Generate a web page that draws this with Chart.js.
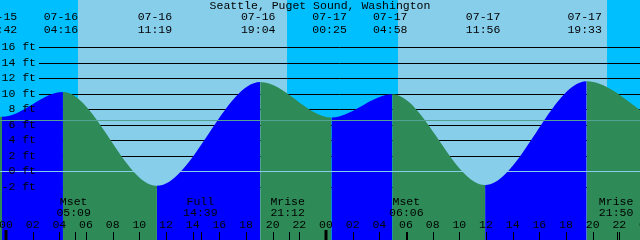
<!DOCTYPE html>
<html>
<head>
<meta charset="UTF-8">
<title>Seattle, Puget Sound, Washington</title>
<script src="https://cdn.jsdelivr.net/npm/chart.js@4.4.1/dist/chart.umd.min.js"></script>
<style>
  html, body { margin: 0; padding: 0; background: #00bfff; }
  canvas { display: block; }
</style>
</head>
<body>
<canvas id="tideChart" width="640" height="240"></canvas>

<script>
const title = 'Seattle, Puget Sound, Washington';

// high / low tides (first and last are off screen, estimated)
const tideDates   = ['07-15', '07-15', '07-16', '07-16', '07-16', '07-17', '07-17', '07-17', '07-17', '07-18'];
const tideTimes   = ['18:30', '23:42', '04:16', '11:19', '19:04', '00:25', '04:58', '11:56', '19:33', '00:45'];
const tideHeights = [11.4, 7.0, 10.2, -1.9, 11.5, 6.9, 9.9, -1.8, 11.6, 6.5];

// sunrise, sunset pairs
const sunDates = ['07-16', '07-16', '07-17', '07-17'];
const sunTimes = ['05:24', '21:03', '05:24', '21:03'];

// moon events
const moonNames = ['Mset', 'Full', 'Mrise', 'Mset', 'Mrise'];
const moonDates = ['07-16', '07-16', '07-16', '07-17', '07-17'];
const moonTimes = ['05:09', '14:39', '21:12', '06:06', '21:50'];

const heightTicks = [16, 14, 12, 10, 8, 6, 4, 2, 0, -2];
const hourTicks = [0, 2, 4, 6, 8, 10, 12, 14, 16, 18, 20, 22, 24, 26, 28, 30, 32, 34, 36, 38, 40, 42, 44, 46, 48];
const meanLevel = 6.6;

const dayStart = { '07-15': -24, '07-16': 0, '07-17': 24, '07-18': 48 };
function toHours(d, t) {
  const p = t.split(':');
  return dayStart[d] + Number(p[0]) + Number(p[1]) / 60;
}

const FONT = "11.5px 'Liberation Mono', 'DejaVu Sans Mono', monospace";
const RISING = '#0000ff', FALLING = '#2e8b57';

function hline(ctx, x0, x1, y) {
  ctx.beginPath();
  ctx.moveTo(x0, y);
  ctx.lineTo(x1, y);
  ctx.stroke();
}

const tidePlugin = {
  id: 'tideDecor',
  beforeDatasetsDraw(chart) {
    const { ctx, chartArea: a, scales: { x, y } } = chart;
    ctx.save();
    // night sky, then daylight bands
    ctx.fillStyle = '#00bfff';
    ctx.fillRect(a.left, a.top, a.width, a.height);
    ctx.fillStyle = '#87ceeb';
    for (let i = 0; i < sunTimes.length; i += 2) {
      const x0 = Math.round(x.getPixelForValue(toHours(sunDates[i], sunTimes[i])));
      const x1 = Math.round(x.getPixelForValue(toHours(sunDates[i + 1], sunTimes[i + 1])));
      ctx.fillRect(x0, a.top, x1 - x0, a.height);
    }
    // height grid
    ctx.strokeStyle = '#000';
    ctx.lineWidth = 1;
    heightTicks.forEach(v => {
      if (v === 0) return;
      hline(ctx, 39, a.right, Math.round(y.getPixelForValue(v)) + 0.5);
    });
    ctx.restore();
  },
  afterDatasetsDraw(chart) {
    const { ctx, chartArea: a, scales: { x, y } } = chart;
    ctx.save();
    ctx.lineWidth = 1;
    // mean level and datum lines
    ctx.strokeStyle = '#52a394';
    hline(ctx, a.left, a.right, Math.round(y.getPixelForValue(meanLevel)) + 0.5);
    ctx.strokeStyle = '#87ceeb';
    hline(ctx, a.left, a.right, Math.round(y.getPixelForValue(0)) + 0.5);

    ctx.font = FONT;
    ctx.fillStyle = '#000';
    ctx.textBaseline = 'middle';

    // title
    ctx.textAlign = 'center';
    ctx.fillText(title, 320, 6);

    // tide times at top, only for the ones inside the window
    tideTimes.forEach((t, i) => {
      const h = toHours(tideDates[i], t);
      if (h < x.min || h > x.max) return;
      const px = x.getPixelForValue(h) - 2;
      ctx.fillText(tideDates[i], px, 17);
      ctx.fillText(t, px, 30);
    });

    // height labels
    ctx.textAlign = 'right';
    heightTicks.forEach(v => {
      ctx.fillText(v + ' ft', 36, Math.round(y.getPixelForValue(v)));
    });

    // moon events
    ctx.textAlign = 'center';
    ctx.strokeStyle = '#000';
    moonNames.forEach((n, i) => {
      const h = toHours(moonDates[i], moonTimes[i]);
      const px = x.getPixelForValue(h);
      ctx.fillText(n, px - 1, 202);
      ctx.fillText(moonTimes[i], px - 1, 213);
      const tx = Math.round(px) + 0.5;
      ctx.beginPath();
      ctx.moveTo(tx, 232);
      ctx.lineTo(tx, 240);
      ctx.stroke();
    });

    // hour ticks and labels
    hourTicks.forEach(h => {
      const px = x.getPixelForValue(h);
      ctx.fillText(String(h % 24).padStart(2, '0'), px, 225);
      const midnight = h % 24 === 0;
      ctx.lineWidth = midnight ? 3 : 1;
      const tx = Math.round(px) + (midnight ? 0 : 0.5);
      ctx.beginPath();
      ctx.moveTo(tx, midnight ? 230 : 232);
      ctx.lineTo(tx, 240);
      ctx.stroke();
    });
    ctx.restore();
  }
};

new Chart('tideChart', {
  type: 'line',
  data: {
    datasets: [{
      data: tideTimes.map((t, i) => ({ x: toHours(tideDates[i], t), y: tideHeights[i] })),
      fill: 'start',
      borderWidth: 0,
      borderColor: 'rgba(0,0,0,0)',
      pointRadius: 0,
      cubicInterpolationMode: 'monotone',
      backgroundColor: FALLING,
      segment: {
        backgroundColor: c => c.p1.parsed.y > c.p0.parsed.y ? RISING : FALLING
      }
    }]
  },
  options: {
    responsive: false,
    animation: false,
    devicePixelRatio: 1,
    layout: { padding: 0 },
    plugins: { legend: { display: false }, tooltip: { enabled: false } },
    scales: {
      x: { type: 'linear', display: false, min: -0.45, max: 47.55 },
      y: { display: false, min: -8.9, max: 22.07 }
    }
  },
  plugins: [tidePlugin]
});
</script>
</body>
</html>
